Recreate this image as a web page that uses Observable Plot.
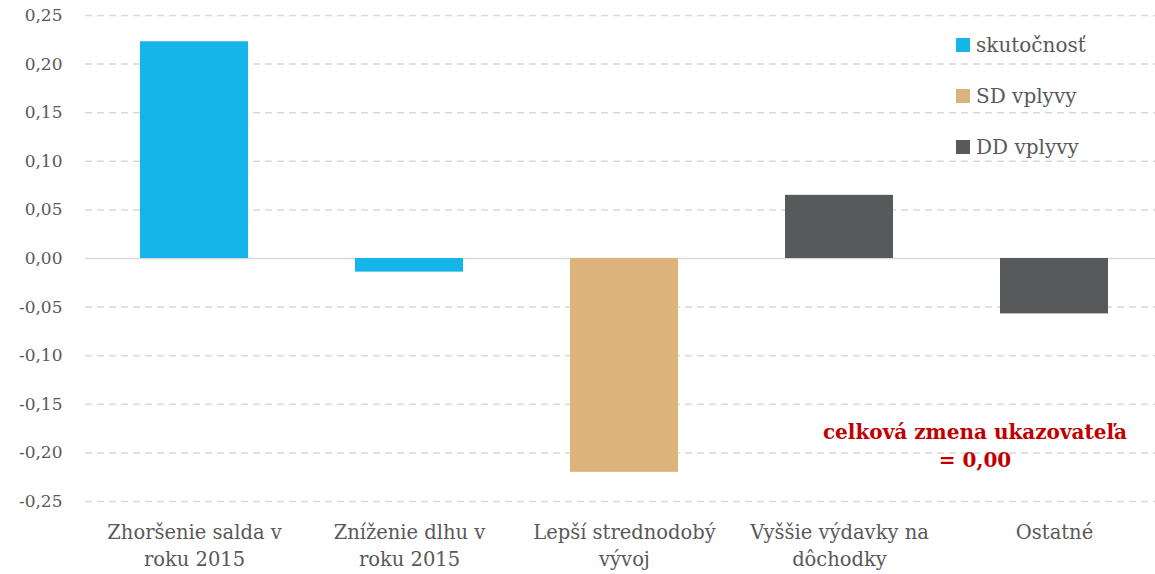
<!DOCTYPE html>
<html>
<head>
<meta charset="utf-8">
<script src="https://cdn.jsdelivr.net/npm/d3@7"></script>
<script src="https://cdn.jsdelivr.net/npm/@observablehq/plot@0.6"></script>
<style>
  html, body { margin: 0; padding: 0; background: #fff; }
  #wrap { position: relative; width: 1155px; height: 574px; font-family: "DejaVu Serif", serif; }
  .legend { position: absolute; left: 956px; top: 19px; color: #595959; font-size: 20px; }
  .legend .row { display: flex; align-items: center; height: 51px; }
  .legend .sw { width: 14px; height: 14px; margin-right: 6px; }
  .note { position: absolute; left: 780px; width: 390px; top: 418px; text-align: center; color: #C00000; font-weight: bold; font-size: 20px; line-height: 28px; }
</style>
</head>
<body>
<div id="wrap"></div>
<script>
const categories = ["Zhoršenie salda v roku 2015", "Zníženie dlhu v roku 2015", "Lepší strednodobý vývoj", "Vyššie výdavky na dôchodky", "Ostatné"];
const categoryLabels = ["Zhoršenie salda v\nroku 2015", "Zníženie dlhu v\nroku 2015", "Lepší strednodobý\nvývoj", "Vyššie výdavky na\ndôchodky", "Ostatné"];
const values = [0.223, -0.014, -0.220, 0.065, -0.057];
const seriesOf = ["skutočnosť", "skutočnosť", "SD vplyvy", "DD vplyvy", "DD vplyvy"];
const seriesNames = ["skutočnosť", "SD vplyvy", "DD vplyvy"];
const seriesColors = ["#15B4E9", "#DBB37B", "#58595B"];
const yTicks = [-0.25, -0.2, -0.15, -0.1, -0.05, 0, 0.05, 0.1, 0.15, 0.2, 0.25];
const noteLines = ["celková zmena ukazovateľa", "= 0,00"];

const data = categories.map((c, i) => ({category: c, value: values[i], series: seriesOf[i]}));
const labelOf = new Map(categories.map((c, i) => [c, categoryLabels[i]]));
const fmt = d => d.toFixed(2).replace(".", ",");

const chart = Plot.plot({
  width: 1155,
  height: 574,
  marginTop: 15,
  marginBottom: 73,
  marginLeft: 85,
  marginRight: 0,
  style: {fontFamily: "DejaVu Serif, serif", background: "#fff", overflow: "visible"},
  x: {domain: categories, range: [85, 1162], paddingInner: 0.5, paddingOuter: 0.25, axis: null, label: null},
  y: {domain: [-0.25, 0.25], axis: null, label: null},
  color: {domain: seriesNames, range: seriesColors},
  marks: [
    Plot.ruleY(yTicks.filter(d => d !== 0), {stroke: "#d9d9d9", strokeWidth: 1.5, strokeDasharray: "7,5"}),
    Plot.ruleY([0], {stroke: "#d9d9d9", strokeWidth: 1.5}),
    Plot.barY(data, {x: "category", y: "value", fill: "series"}),
    Plot.axisY({ticks: yTicks, tickSize: 0, tickPadding: 23, tickFormat: fmt, fontSize: 17, fill: "#595959", label: null}),
    Plot.axisX({tickSize: 0, tickPadding: 19, tickFormat: d => labelOf.get(d), fontSize: 19.5, lineHeight: 1.36, fill: "#595959", label: null})
  ]
});

const wrap = document.getElementById("wrap");
wrap.appendChild(chart);

const legend = document.createElement("div");
legend.className = "legend";
seriesNames.forEach((name, i) => {
  const row = document.createElement("div");
  row.className = "row";
  const sw = document.createElement("span");
  sw.className = "sw";
  sw.style.background = seriesColors[i];
  const t = document.createElement("span");
  t.textContent = name;
  row.appendChild(sw);
  row.appendChild(t);
  legend.appendChild(row);
});
wrap.appendChild(legend);

const note = document.createElement("div");
note.className = "note";
note.innerHTML = noteLines.join("<br>");
wrap.appendChild(note);
</script>
</body>
</html>
